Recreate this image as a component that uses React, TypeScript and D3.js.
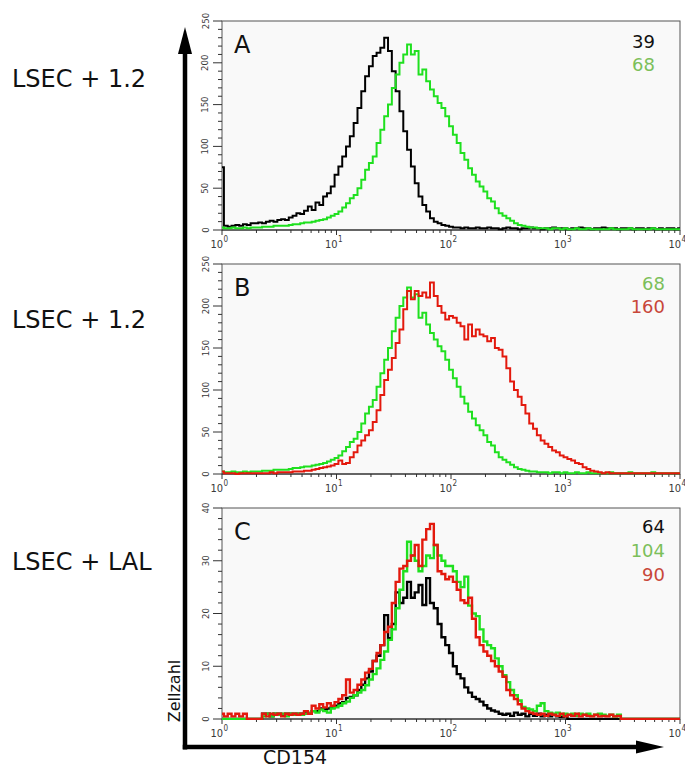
import React from 'react';
import * as d3 from 'd3';

// channel positions, in decades of CD154 fluorescence (30 channels per decade, 10^0 .. 10^4)
const CHANNEL_LOG = d3.range(0, 121).map((i) => i / 30);

// Panel A – black (39)
const A_BLACK = [
  75, 5, 4, 5, 6, 5, 7, 6, 8, 8,
  9, 8, 10, 11, 10, 12, 13, 12, 15, 17,
  20, 19, 23, 28, 24, 33, 30, 40, 44, 52,
  66, 76, 88, 100, 112, 128, 146, 166, 184, 196,
  208, 212, 218, 230, 214, 190, 166, 142, 118, 96,
  76, 56, 40, 30, 22, 14, 10, 8, 6, 5,
  4, 3, 3, 2, 3, 2, 2, 3, 2, 2,
  3, 2, 2, 1, 2, 3, 2, 2, 1, 2,
  2, 3, 2, 2, 1, 2, 2, 3, 2, 2,
  2, 1, 2, 2, 3, 2, 2, 1, 2, 2,
  3, 2, 2, 2, 1, 2, 2, 2, 1, 2,
  2, 1, 2, 2, 1, 2, 1, 2, 2, 1, 2,
];

// Panels A and B – green (68)
const AB_GREEN = [
  3, 2, 2, 3, 2, 2, 3, 2, 3, 3,
  3, 4, 4, 4, 5, 5, 5, 5, 6, 7,
  7, 8, 9, 9, 10, 11, 12, 13, 15, 17,
  19, 22, 27, 32, 38, 42, 50, 60, 72, 80,
  88, 104, 120, 136, 150, 170, 186, 200, 210, 222,
  210, 214, 186, 192, 178, 168, 160, 152, 146, 136,
  124, 114, 104, 92, 84, 74, 66, 58, 52, 46,
  38, 34, 26, 20, 17, 14, 11, 8, 6, 5,
  4, 3, 3, 2, 2, 2, 1, 2, 2, 1,
  2, 1, 1, 2, 1, 1, 2, 1, 1, 1,
  1, 1, 2, 1, 1, 1, 1, 2, 1, 1,
  1, 1, 1, 2, 1, 1, 1, 1, 1, 1, 1,
];

// Panel B – red (160)
const B_RED = [
  3, 1, 1, 1, 0, 1, 1, 1, 1, 1,
  1, 1, 1, 2, 1, 2, 2, 2, 2, 3,
  3, 3, 4, 4, 5, 6, 7, 8, 9, 10,
  12, 16, 12, 13, 20, 26, 34, 40, 46, 52,
  62, 76, 94, 112, 124, 138, 156, 172, 196, 218,
  208, 218, 212, 216, 210, 228, 212, 200, 192, 184,
  188, 186, 180, 176, 160, 178, 164, 172, 166, 164,
  158, 162, 150, 148, 140, 126, 110, 100, 92, 82,
  72, 60, 54, 46, 40, 36, 32, 28, 26, 22,
  20, 18, 16, 13, 12, 8, 6, 4, 3, 2,
  1, 2, 1, 1, 1, 1, 1, 1, 1, 1,
  1, 1, 1, 1, 1, 1, 1, 1, 1, 1, 1,
];

// Panel C – black (64)
const C_BLACK = [
  0, 0, 0, 0, 0, 0, 0, 0, 0, 0,
  0, 1, 1, 0.5, 1, 1, 0.8, 1, 1, 1,
  1, 1, 1.2, 1, 1.5, 1.5, 2, 1.8, 2, 2.2,
  2.5, 3, 3.2, 4, 4.2, 4.5, 5.5, 6.5, 7.7, 9,
  11, 12, 14, 19.7, 15.3, 18, 24, 22, 23, 26,
  23, 24, 25.4, 21.6, 26.7, 22, 21, 18, 15.5, 14,
  12.5, 10, 8.5, 7.7, 6, 5, 4.2, 3.8, 3.3, 2.6,
  2, 1.6, 1.4, 1, 0.8, 1, 0.6, 1.2, 0.8, 1,
  0.5, 1, 0.6, 1, 0.5, 0.8, 0.5, 0.8, 0.5, 0.4,
  0.5, 0, 0, 0, 0, 0, 0, 0, 0, 0,
  0, 0, 0, 0, 0, 0, 0, 0, 0, 0,
  0, 0, 0, 0, 0, 0, 0, 0, 0, 0, 0,
];

// Panel C – green (104)
const C_GREEN = [
  0, 0, 0, 0, 0, 0, 0, 0, 0, 0,
  0, 0.5, 1, 0.5, 1, 0.8, 1, 0.5, 1, 0.8,
  1, 0.8, 1, 1.2, 1.5, 1.2, 1.8, 1.5, 1.2, 2,
  2.2, 2.5, 3, 3.3, 4, 4.5, 5, 5.5, 6.4, 7.5,
  8.5, 9.6, 11.2, 12.8, 15, 17, 21, 24.5, 28, 33.6,
  31, 30, 28, 29, 31, 30.5, 33, 31, 30, 29,
  29, 28, 26, 25, 27, 21.5, 20, 19.5, 17, 14.7,
  14, 13.4, 11.5, 10, 8.3, 7, 5.5, 4.5, 3.5, 2.3,
  2, 1.8, 1.5, 2.5, 3, 1.5, 1.2, 1, 1.2, 0.8,
  1, 0.8, 1, 0.6, 1, 0.8, 1, 0.6, 0.8, 1,
  0.8, 0.6, 0.8, 0.5, 0.8, 0, 0, 0, 0, 0,
  0, 0, 0, 0, 0, 0, 0, 0, 0, 0, 0,
];

// Panel C – red (90)
const C_RED = [
  1, 0.5, 1, 0.5, 1, 0.5, 1, 0, 0, 0,
  0, 1, 0.5, 1, 0.8, 1, 0.5, 1, 0.8, 1,
  0.8, 1, 1.5, 1, 2.5, 2, 2.8, 2.2, 3, 2.5,
  3.2, 3.8, 4.5, 7.5, 5, 5.5, 6.5, 7.5, 8.8, 9.5,
  11, 12.5, 14, 16.5, 17.5, 22, 26, 28.5, 29, 30,
  31, 33, 29, 34, 36, 37, 33, 28, 27.5, 26.5,
  27, 26, 24.5, 22.5, 22, 23, 19, 15.5, 14, 12.8,
  12, 11, 10, 9, 8, 5.5, 4.5, 3.8, 2.8, 2,
  1.5, 1.2, 1, 0.8, 1, 0.6, 1, 0.8, 0.6, 1,
  0.5, 0.8, 0.6, 1, 0.5, 0.8, 0.6, 0.5, 0.8, 0.5,
  0.6, 0.5, 0.8, 0.5, 0.6, 0, 0, 0, 0, 0,
  0, 0, 0, 0, 0, 0, 0, 0, 0, 0, 0,
];

const PANEL_LETTERS = ['A', 'B', 'C'];
const ROW_LABELS = ['LSEC + 1.2', 'LSEC + 1.2', 'LSEC + LAL'];
const A_MFI = ['39', '68'];
const B_MFI = ['68', '160'];
const C_MFI = ['64', '104', '90'];
const X_TITLE = 'CD154';
const Y_TITLE = 'Zellzahl';

const BLACK = '#000000';
const GREEN = '#1fe01f';
const RED = '#e3190d';
const GREEN_TXT = '#7cbf5a';
const RED_TXT = '#c8473a';
const TXT_COLORS: Record<string, string> = { black: '#111', green: GREEN_TXT, red: RED_TXT };
const LINE_COLORS: Record<string, string> = { black: BLACK, green: GREEN, red: RED };

const X0 = 222;
const X1 = 680;
const FONT = "'DejaVu Sans', sans-serif";
const TICK_FONT = "'Liberation Sans Narrow', 'DejaVu Sans Condensed', 'Liberation Sans', sans-serif";

type Series = { key: string; color: string; values: number[] };

interface PanelProps {
  id: string;
  top: number;
  bottom: number;
  yMax: number;
  yMajor: number;
  yMinor: number;
  letter: string;
  series: Series[];
  mfi: { text: string; color: string }[];
  mfiRight: number;
  mfiY: number[];
  strokeW: number;
}

function Panel(p: PanelProps) {
  const x = d3.scaleLog().domain([1, 1e4]).range([X0, X1]);
  const y = d3.scaleLinear().domain([0, p.yMax]).range([p.bottom, p.top]);
  const line = d3
    .line<number>()
    .x((_, i) => x(Math.pow(10, CHANNEL_LOG[i])))
    .y((v) => y(v))
    .curve(d3.curveStep);
  const xTicks = x.ticks();
  const yTicks = d3.range(0, p.yMax + 0.001, p.yMinor);
  const isMajorY = (v: number) => Math.abs(v / p.yMajor - Math.round(v / p.yMajor)) < 1e-6;
  const decades = [1, 10, 100, 1000, 10000];
  return (
    <g>
      <defs>
        <clipPath id={`clip-${p.id}`}>
          <rect x={X0} y={p.top} width={X1 - X0} height={p.bottom - p.top + 1} />
        </clipPath>
      </defs>
      <rect x={X0} y={p.top} width={X1 - X0} height={p.bottom - p.top} fill="#f9f9f9" stroke="#555" strokeWidth={1} />
      {/* y ticks */}
      {yTicks.map((v) => (
        <line
          key={`yt${v}`}
          x1={X0 - (isMajorY(v) ? 9 : 4)}
          x2={X0}
          y1={y(v)}
          y2={y(v)}
          stroke="#333"
          strokeWidth={1}
        />
      ))}
      {yTicks.filter(isMajorY).map((v) => (
        <text
          key={`yl${v}`}
          x={208.5}
          y={y(v)}
          transform={`rotate(-90, 208.5, ${y(v)})`}
          textAnchor="middle"
          fontFamily={TICK_FONT}
          fontSize={9.5}
          fill="#3a3a3a"
        >
          {v}
        </text>
      ))}
      {/* x ticks */}
      {xTicks.map((t) => {
        const major = decades.includes(Math.round(t)) && Math.abs(Math.log10(t) - Math.round(Math.log10(t))) < 1e-9;
        return (
          <line
            key={`xt${t}`}
            x1={x(t)}
            x2={x(t)}
            y1={p.bottom}
            y2={p.bottom + (major ? 5 : 3)}
            stroke="#333"
            strokeWidth={1}
          />
        );
      })}
      {decades.map((t, i) => (
        <g key={`xl${t}`}>
          <text x={x(t) + 1} y={p.bottom + 18} textAnchor="end" fontFamily={TICK_FONT} fontSize={11} fill="#3a3a3a">
            10
          </text>
          <text x={x(t) + 1.5} y={p.bottom + 12} textAnchor="start" fontFamily={TICK_FONT} fontSize={8} fill="#3a3a3a">
            {i}
          </text>
        </g>
      ))}
      <line x1={X0} x2={X1} y1={p.bottom} y2={p.bottom} stroke="#222" strokeWidth={1.2} />
      <g clipPath={`url(#clip-${p.id})`}>
        {p.series.map((s) => (
          <path
            key={s.key}
            d={line(s.values) || ''}
            fill="none"
            stroke={LINE_COLORS[s.color]}
            strokeWidth={p.strokeW}
            strokeLinejoin="miter"
          />
        ))}
      </g>
      <text x={234} y={p.top + 32} fontFamily={FONT} fontSize={24} fill="#111">
        {p.letter}
      </text>
      {p.mfi.map((m, i) => (
        <text
          key={`m${i}`}
          x={p.mfiRight}
          y={p.mfiY[i]}
          textAnchor="end"
          fontFamily={FONT}
          fontSize={18}
          fill={TXT_COLORS[m.color]}
        >
          {m.text}
        </text>
      ))}
    </g>
  );
}

export default function App() {
  return (
    <svg
      width={685}
      height={769}
      viewBox="0 0 685 769"
      style={{ position: 'absolute', left: 0, top: 0, background: '#fff' }}
    >
      <rect x={0} y={0} width={685} height={769} fill="#fff" />
      {/* row labels */}
      <text x={12} y={87} fontFamily={FONT} fontSize={24} fill="#111">{ROW_LABELS[0]}</text>
      <text x={12} y={328} fontFamily={FONT} fontSize={24} fill="#111">{ROW_LABELS[1]}</text>
      <text x={12} y={570} fontFamily={FONT} fontSize={24} fill="#111">{ROW_LABELS[2]}</text>

      <Panel
        id="a"
        top={21}
        bottom={230}
        yMax={250}
        yMajor={50}
        yMinor={10}
        letter={PANEL_LETTERS[0]}
        series={[
          { key: 'black', color: 'black', values: A_BLACK },
          { key: 'green', color: 'green', values: AB_GREEN },
        ]}
        mfi={[
          { text: A_MFI[0], color: 'black' },
          { text: A_MFI[1], color: 'green' },
        ]}
        mfiRight={655}
        mfiY={[48, 71]}
        strokeW={2}
      />
      <Panel
        id="b"
        top={264}
        bottom={474}
        yMax={250}
        yMajor={50}
        yMinor={10}
        letter={PANEL_LETTERS[1]}
        series={[
          { key: 'green', color: 'green', values: AB_GREEN },
          { key: 'red', color: 'red', values: B_RED },
        ]}
        mfi={[
          { text: B_MFI[0], color: 'green' },
          { text: B_MFI[1], color: 'red' },
        ]}
        mfiRight={665}
        mfiY={[290, 313]}
        strokeW={2}
      />
      <Panel
        id="c"
        top={508}
        bottom={719}
        yMax={40}
        yMajor={10}
        yMinor={2}
        letter={PANEL_LETTERS[2]}
        series={[
          { key: 'black', color: 'black', values: C_BLACK },
          { key: 'green', color: 'green', values: C_GREEN },
          { key: 'red', color: 'red', values: C_RED },
        ]}
        mfi={[
          { text: C_MFI[0], color: 'black' },
          { text: C_MFI[1], color: 'green' },
          { text: C_MFI[2], color: 'red' },
        ]}
        mfiRight={665}
        mfiY={[533, 557, 581]}
        strokeW={2.4}
      />

      {/* axis arrows */}
      <line x1={185} y1={749.5} x2={185} y2={50} stroke="#000" strokeWidth={4.5} />
      <path d="M185,27 L178,54 L192,54 Z" fill="#000" />
      <line x1={182.75} y1={747} x2={640} y2={747} stroke="#000" strokeWidth={4.5} />
      <path d="M664,747 L636,740.5 L636,753.5 Z" fill="#000" />

      {/* axis titles */}
      <text
        x={180}
        y={691}
        transform="rotate(-90, 180, 691)"
        textAnchor="middle"
        fontFamily={FONT}
        fontSize={16}
        fill="#111"
      >
        {Y_TITLE}
      </text>
      <text x={295} y={764} textAnchor="middle" fontFamily={FONT} fontSize={19} fill="#111">
        {X_TITLE}
      </text>
    </svg>
  );
}
